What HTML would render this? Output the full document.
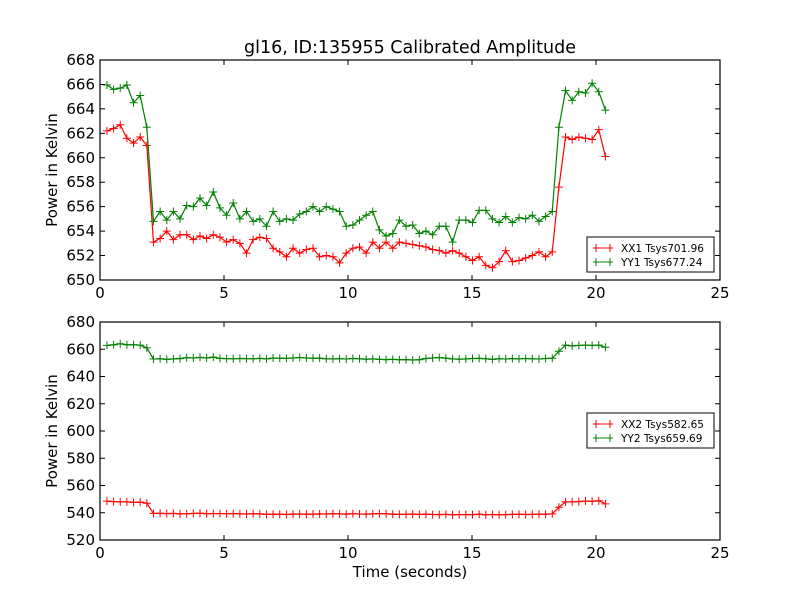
<!DOCTYPE html>
<html><head><meta charset="utf-8"><style>
body{margin:0;background:#fff}
svg{display:block;font-family:"DejaVu Sans","Liberation Sans",sans-serif}
</style></head><body>
<svg id="fig" width="800" height="600" viewBox="0 0 800 600">
<rect width="800" height="600" fill="#fff"/>
<text x="410" y="53" font-size="17.5" text-anchor="middle">gl16, ID:135955 Calibrated Amplitude</text>
<text x="57" y="170" font-size="15" text-anchor="middle" transform="rotate(-90 57 170)">Power in Kelvin</text>
<text x="57" y="431" font-size="15" text-anchor="middle" transform="rotate(-90 57 431)">Power in Kelvin</text>
<text x="410" y="577" font-size="15" text-anchor="middle">Time (seconds)</text>
</svg>
<script>
const times0 = 0.28, dtStep = 0.268;
const xx1 = [662.2,662.4,662.7,661.6,661.2,661.7,661.0,653.1,653.4,654.0,653.3,653.7,653.7,653.3,653.6,653.4,653.7,653.5,653.1,653.3,653.0,652.2,653.3,653.5,653.4,652.6,652.3,651.9,652.6,652.2,652.5,652.6,651.9,652.0,651.9,651.4,652.2,652.6,652.7,652.2,653.1,652.6,653.1,652.6,653.1,653.0,652.9,652.8,652.7,652.5,652.4,652.2,652.4,652.2,651.9,651.6,651.9,651.2,651.0,651.5,652.4,651.5,651.6,651.8,652.0,652.3,651.9,652.3,657.6,661.7,661.5,661.7,661.6,661.5,662.3,660.1];
const yy1 = [665.95,665.6,665.7,665.95,664.5,665.1,662.5,654.8,655.6,654.9,655.6,655.0,656.1,656.0,656.7,656.1,657.2,655.9,655.3,656.3,655.0,655.6,654.8,655.0,654.4,655.6,654.8,655.0,654.9,655.4,655.6,656.0,655.6,656.0,655.8,655.6,654.4,654.5,654.9,655.3,655.6,654.1,653.6,653.8,654.9,654.4,654.5,653.8,654.0,653.7,654.4,654.4,653.1,654.9,654.9,654.7,655.7,655.7,655.0,654.7,655.2,654.7,655.1,655.0,655.3,654.8,655.2,655.6,662.5,665.5,664.7,665.4,665.3,666.1,665.4,663.9];
const xx2 = [548.5,548.2,548.0,548.0,547.6,547.8,547.0,539.5,539.6,539.4,539.5,539.2,539.3,539.5,539.6,539.3,539.4,539.4,539.3,539.4,539.2,539.1,539.3,539.2,538.8,538.9,539.0,538.7,539.0,539.1,538.9,539.0,539.2,539.1,539.3,539.2,539.0,539.3,539.1,539.0,539.2,539.4,539.3,538.9,538.8,538.9,539.0,538.8,539.0,538.7,538.6,538.8,538.5,538.7,538.6,538.6,538.9,538.5,538.7,538.5,538.6,538.8,538.9,538.7,538.8,539.0,538.9,539.2,544.0,548.0,548.0,548.2,548.6,548.4,548.8,546.5];
const yy2 = [662.8,663.3,664.0,663.3,663.3,663.0,661.0,652.8,653.0,652.6,652.9,653.1,653.8,653.6,654.0,653.6,654.2,653.3,653.1,653.0,653.2,653.1,653.0,653.3,652.9,653.6,653.4,653.3,653.6,653.9,653.6,653.4,653.5,653.0,652.9,653.1,652.8,653.2,653.0,652.7,652.9,652.6,652.4,652.6,652.3,652.4,652.1,652.3,653.2,653.6,653.9,653.4,652.9,652.7,652.9,653.2,653.3,653.0,652.6,653.0,652.8,653.1,652.9,653.2,653.0,652.8,653.2,653.4,658.5,663.0,662.5,662.8,663.0,662.8,663.0,661.5];
const xTicks = [0,5,10,15,20,25];
const topYTicks = [650,652,654,656,658,660,662,664,666,668];
const botYTicks = [520,540,560,580,600,620,640,660,680];
const topLegend = ["XX1 Tsys701.96","YY1 Tsys677.24"];
const botLegend = ["XX2 Tsys582.65","YY2 Tsys659.69"];

const NS="http://www.w3.org/2000/svg";
const svg=document.getElementById('fig');
function el(tag,attrs,parent){const e=document.createElementNS(NS,tag);for(const k in attrs)e.setAttribute(k,attrs[k]);(parent||svg).appendChild(e);return e;}
const X0=100,X1=720;
const xs=v=>X0+(v-0)/(25-0)*(X1-X0);

function panel(name,top,bot,ymin,ymax,yTicks,series,legend,legY){
  const g=el('g',{});
  
  
  const ys=v=>bot-(v-ymin)/(ymax-ymin)*(bot-top);
  series.forEach((s,si)=>{
    const pts=s.vals.map((v,i)=>[xs(times0+i*dtStep),ys(v)]);
    const line=el('polyline',{points:pts.map(p=>p.join(',')).join(' '),fill:'none',stroke:s.color,'stroke-width':1.2},g);
    
    
    const mg=el('g',{stroke:s.color,'stroke-width':1},g);
    
    
    pts.forEach(p=>{
      el('path',{d:`M${p[0]-4},${p[1]}h8M${p[0]},${p[1]-4}v8`},mg);
    });
  });
  const fr=el('rect',{x:X0,y:top,width:X1-X0,height:bot-top,fill:'none',stroke:'#000','stroke-width':1.2},g);
  
  
  xTicks.forEach(t=>{
    const x=xs(t);
    el('path',{d:`M${x},${bot}v-5M${x},${top}v5`,stroke:'#000'},g);
    const tx=el('text',{x:x,y:bot+18,'font-size':15,'text-anchor':'middle'},g);
    tx.textContent=t;
    
    
  });
  yTicks.forEach(t=>{
    const y=ys(t);
    el('path',{d:`M${X0},${y}h5M${X1},${y}h-5`,stroke:'#000'},g);
    const ty=el('text',{x:X0-5,y:y+5,'font-size':15,'text-anchor':'end'},g);
    ty.textContent=t;
    
    
  });
  const lg=el('g',{},g);
  
  
  el('rect',{x:587,y:legY,width:127,height:35,fill:'#fff',stroke:'#000','stroke-width':1},lg);
  legend.forEach((lab,i)=>{
    const yy=legY+11+i*14;
    const c=series[i].color;
    el('path',{d:`M593,${yy}h20M596,${yy-4}v8M610,${yy-4}v8`,stroke:c,'stroke-width':1},lg);
    const t=el('text',{x:621,y:yy+4,'font-size':10.5},lg);
    t.textContent=lab;
    
    
  });
}
panel('top-panel',60,280,650,668,topYTicks,[{name:'xx1',color:'#ff0000',vals:xx1},{name:'yy1',color:'#008000',vals:yy1}],topLegend,237);
panel('bottom-panel',322,540,520,680,botYTicks,[{name:'xx2',color:'#ff0000',vals:xx2},{name:'yy2',color:'#008000',vals:yy2}],botLegend,413);
</script>
</body></html>
